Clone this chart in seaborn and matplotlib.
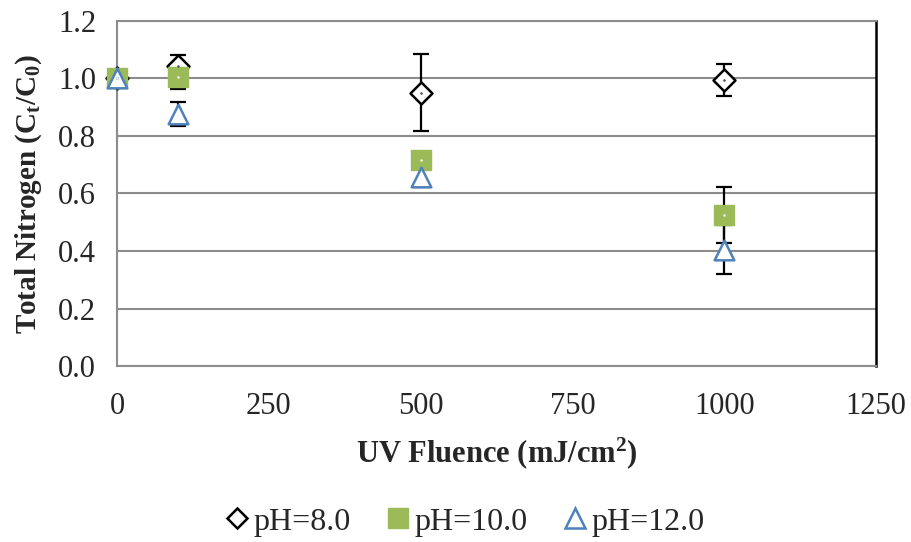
import matplotlib
matplotlib.use("Agg")
import matplotlib.pyplot as plt
import seaborn as sns
import pandas as pd
import numpy as np
from matplotlib.lines import Line2D

fluence = [0, 100, 500, 1000]
ph8 = [1.0, 1.045, 0.95, 0.995]
ph8_err = [0.0, 0.037, 0.134, 0.057]
ph10 = [1.0, 1.005, 0.715, 0.525]
ph10_err = [0.0, 0.04, 0.03, 0.098]
ph12 = [1.0, 0.877, 0.658, 0.405]
ph12_err = [0.0, 0.042, 0.035, 0.085]
labels = ["pH=8.0", "pH=10.0", "pH=12.0"]

sns.set_theme(style="white")
plt.rcParams['font.family'] = ['Liberation Serif', 'DejaVu Serif']
plt.rcParams['mathtext.fontset'] = 'custom'
plt.rcParams['mathtext.rm'] = 'Liberation Serif:bold'
plt.rcParams['mathtext.it'] = 'Liberation Serif:bold'
plt.rcParams['mathtext.bf'] = 'Liberation Serif:bold'

df = pd.DataFrame({
    "fluence": fluence * 3,
    "value": ph8 + ph10 + ph12,
    "err": ph8_err + ph10_err + ph12_err,
    "series": [labels[0]] * 4 + [labels[1]] * 4 + [labels[2]] * 4,
})

fig = plt.figure(figsize=(9.11, 5.42), dpi=100)
ax = fig.add_axes([0.1284, 0.3247, 0.8332, 0.6366])

gray = "#8c8c8c"
ax.set_xlim(0, 1250)
ax.set_ylim(0, 1.2)
ax.set_yticks(np.arange(0, 1.21, 0.2))
ax.set_xticks([0, 250, 500, 750, 1000, 1250])
ax.yaxis.grid(True, color=gray, linewidth=1.5)
ax.set_axisbelow(True)

# error bars
for lab, vals, errs in [(labels[0], ph8, ph8_err), (labels[1], ph10, ph10_err), (labels[2], ph12, ph12_err)]:
    ax.errorbar(fluence, vals, yerr=errs, fmt="none", ecolor="black",
                elinewidth=1.6, capsize=6, capthick=1.6, zorder=3)

styles = {
    labels[0]: dict(marker="D", facecolor="white", edgecolor="black", size=125, lw=1.8),
    labels[1]: dict(marker="s", facecolor="#9bbb59", edgecolor="#9bbb59", size=190, lw=1.0),
    labels[2]: dict(marker="^", facecolor="white", edgecolor="#4f81bd", size=200, lw=1.8),
}
for lab in labels:
    st = styles[lab]
    sub = df[df["series"] == lab]
    sns.scatterplot(data=sub, x="fluence", y="value", ax=ax, marker=st["marker"],
                    s=st["size"], color=st["facecolor"], edgecolor=st["edgecolor"],
                    linewidth=st["lw"], zorder=4, legend=False, clip_on=False)
    if lab == labels[0]:
        sns.scatterplot(data=sub, x="fluence", y="value", ax=ax, marker=".",
                        s=14, color="#555555", edgecolor="#555555", linewidth=0, zorder=5,
                        legend=False, clip_on=False)
    if lab == labels[1]:
        sns.scatterplot(data=sub, x="fluence", y="value", ax=ax, marker=".",
                        s=12, color="white", edgecolor="white", linewidth=0, zorder=5,
                        legend=False, clip_on=False)

for side in ["left", "bottom", "top"]:
    ax.spines[side].set_color(gray)
    ax.spines[side].set_linewidth(1.5)
ax.spines["right"].set_color("black")
ax.spines["right"].set_linewidth(1.8)
ax.tick_params(axis="both", which="major", direction="out", length=7, width=1.5,
               color=gray, labelsize=22)
ax.tick_params(axis="x", pad=12)
ax.tick_params(axis="y", pad=8)
ax.set_yticklabels([f"{v:.1f}" for v in np.arange(0, 1.21, 0.2)])
ax.set_xticklabels(["0", "250", "500", "750", "1000", "1250"])

ax.set_xlabel("UV Fluence (mJ/cm$\\mathregular{^2}$)", fontsize=22, fontweight="bold", labelpad=10)
ax.set_ylabel("Total Nitrogen (C$\\mathregular{_t}$/C$\\mathregular{_0}$)", fontsize=21, fontweight="bold", labelpad=10)

handles = [
    Line2D([], [], linestyle="none", marker="D", markersize=10, markerfacecolor="white",
           markeredgecolor="black", markeredgewidth=1.8),
    Line2D([], [], linestyle="none", marker="s", markersize=14, markerfacecolor="#9bbb59",
           markeredgecolor="#9bbb59"),
    Line2D([], [], linestyle="none", marker="^", markersize=14, markerfacecolor="white",
           markeredgecolor="#4f81bd", markeredgewidth=1.8),
]
fig.legend(handles, labels, loc="center", bbox_to_anchor=(0.508, 0.037), ncol=3,
           frameon=False, fontsize=23, handletextpad=0.0, columnspacing=1.0, handlelength=1.0)

fig.savefig("out.png", dpi=100)
